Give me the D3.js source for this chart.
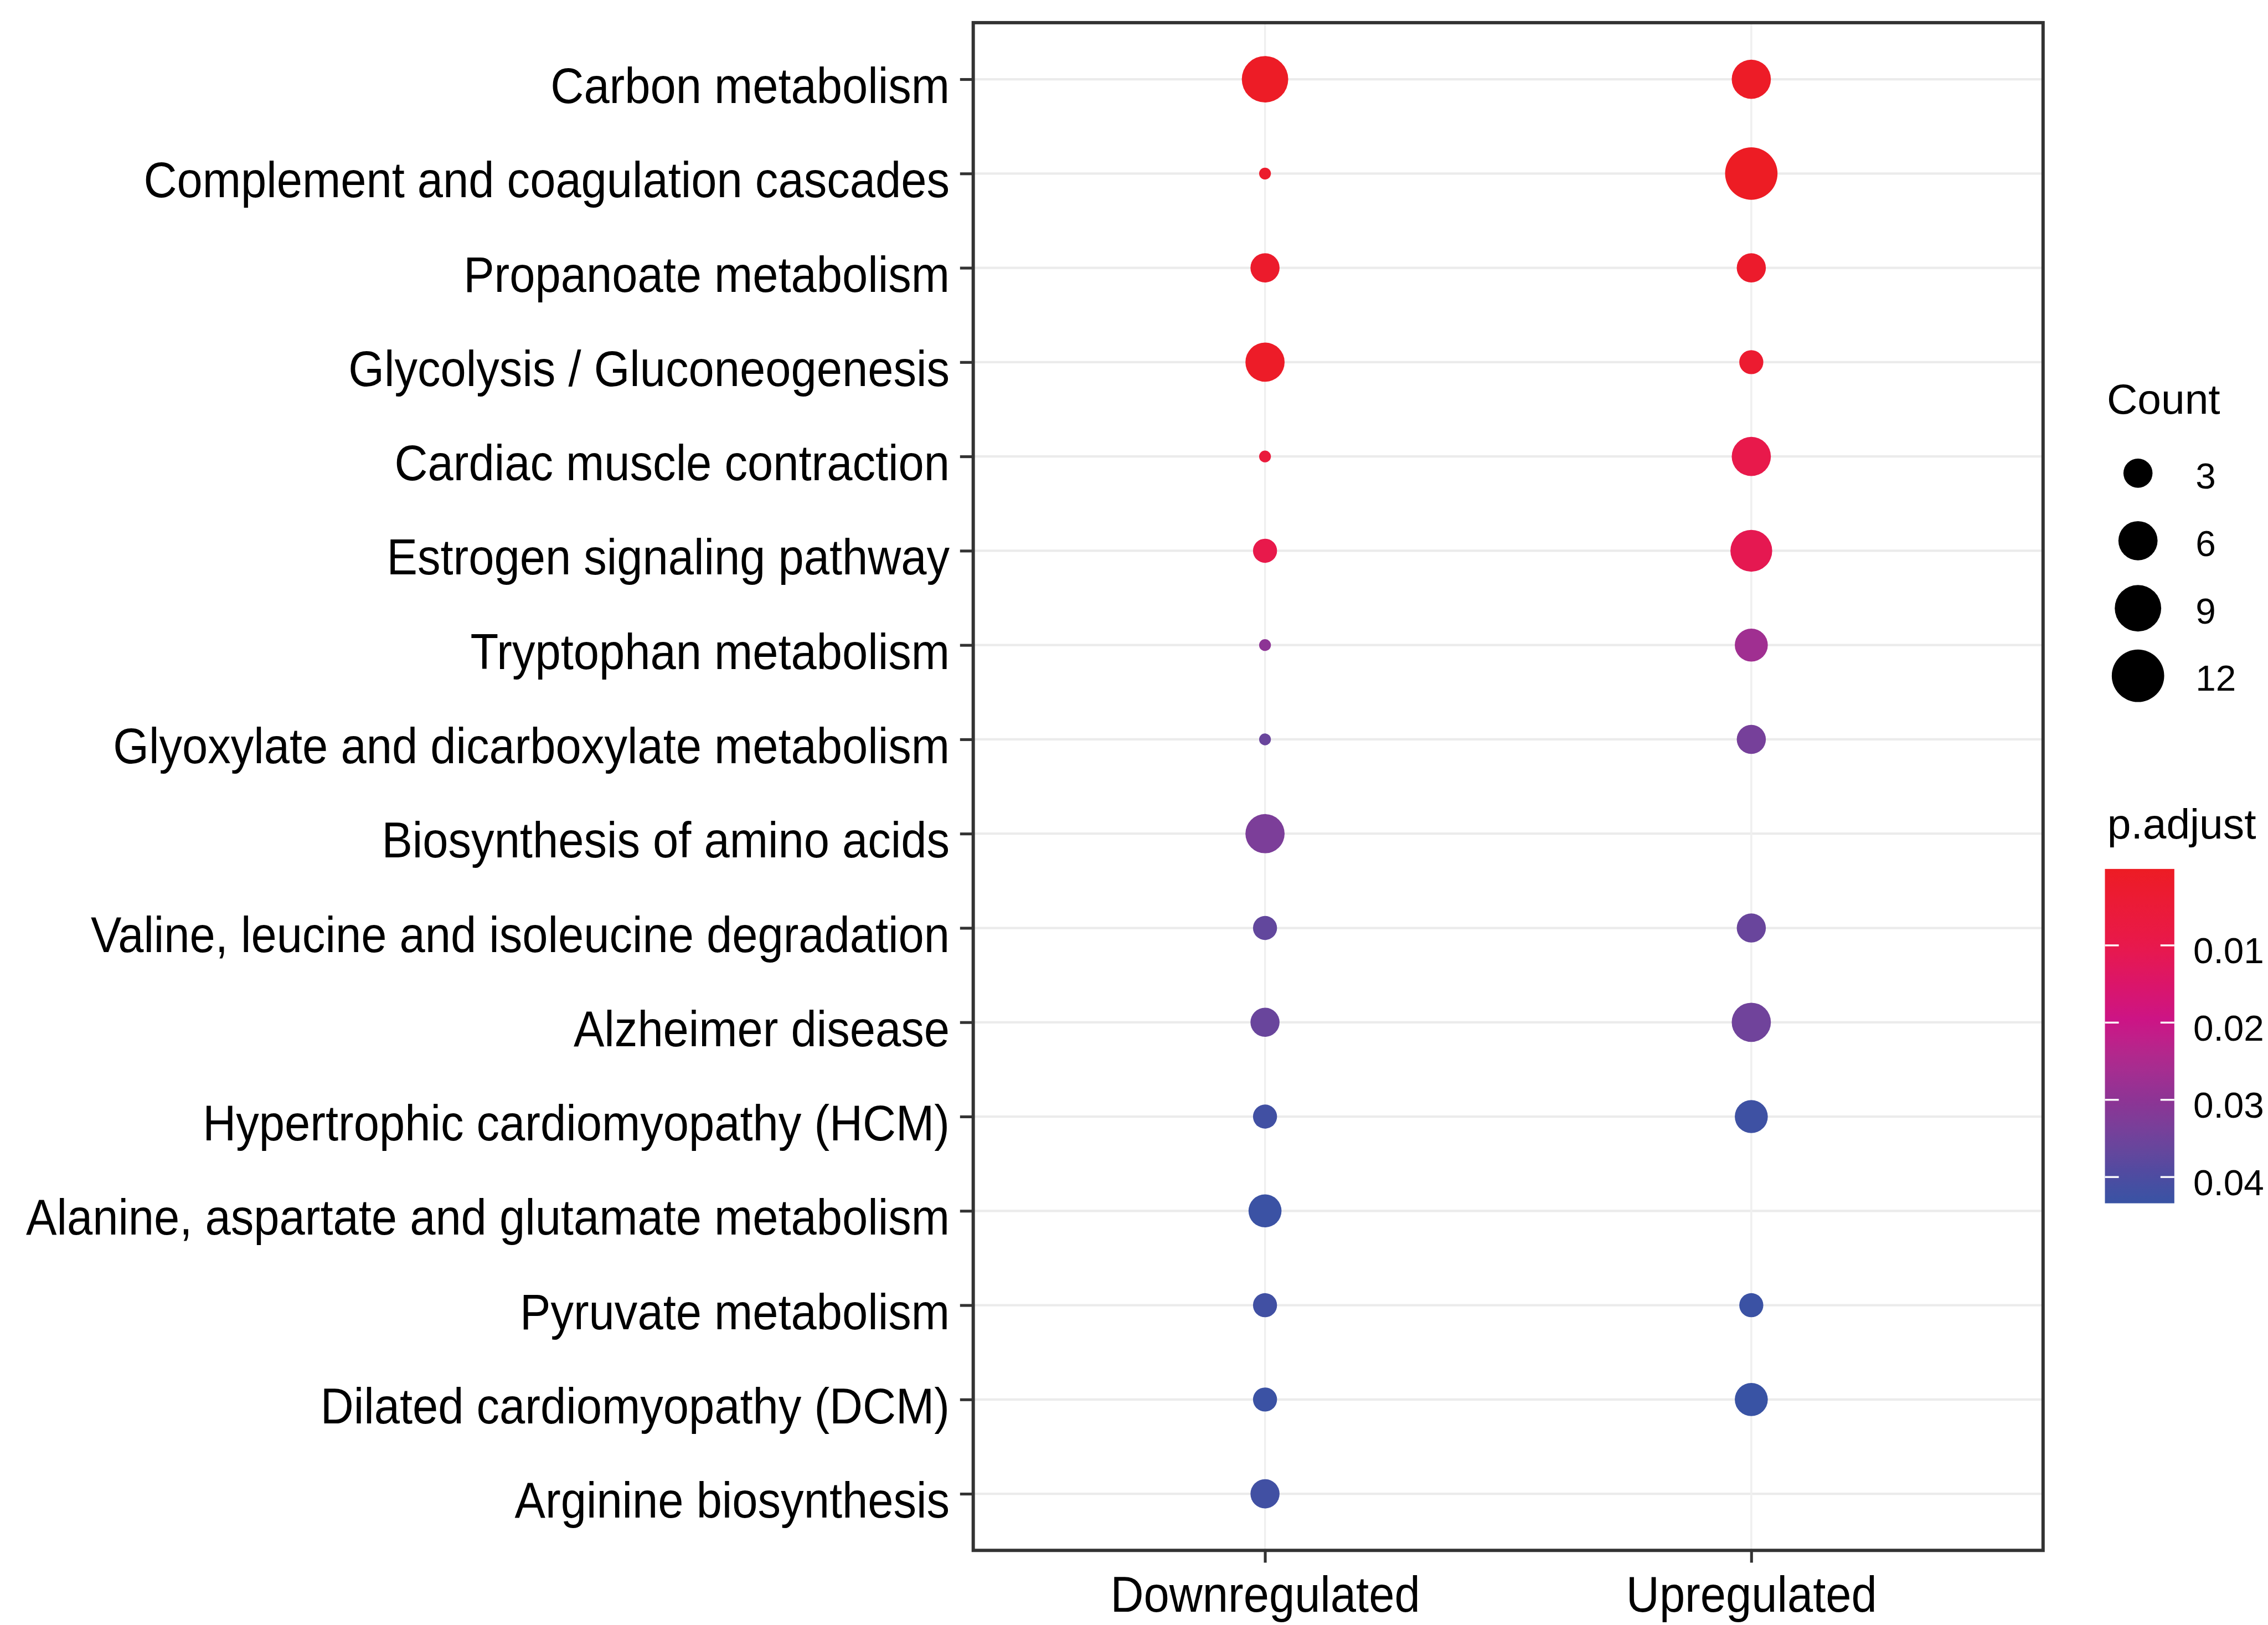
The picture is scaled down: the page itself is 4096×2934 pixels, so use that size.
<!DOCTYPE html>
<html>
<head>
<meta charset="utf-8">
<script src="https://cdn.jsdelivr.net/npm/d3@7"></script>
<style>
  html, body { margin: 0; padding: 0; background: #ffffff; }
  svg { display: block; }
  text { font-family: "Liberation Sans", Arial, Helvetica, sans-serif; fill: #000; }
</style>
</head>
<body>
<script>
// KEGG pathway enrichment, compared between down- and up-regulated proteins
const pathways = [
  "Carbon metabolism",
  "Complement and coagulation cascades",
  "Propanoate metabolism",
  "Glycolysis / Gluconeogenesis",
  "Cardiac muscle contraction",
  "Estrogen signaling pathway",
  "Tryptophan metabolism",
  "Glyoxylate and dicarboxylate metabolism",
  "Biosynthesis of amino acids",
  "Valine, leucine and isoleucine degradation",
  "Alzheimer disease",
  "Hypertrophic cardiomyopathy (HCM)",
  "Alanine, aspartate and glutamate metabolism",
  "Pyruvate metabolism",
  "Dilated cardiomyopathy (DCM)",
  "Arginine biosynthesis"
];
const groups = ["Downregulated", "Upregulated"];

// gene counts per pathway (null = pathway not enriched in that group)
const downCount = [9, 1, 3, 6, 1, 2, 1, 1, 6, 2, 3, 2, 4, 2, 2, 3];
const upCount   = [6, 12, 3, 2, 6, 7, 4, 3, null, 3, 6, 4, null, 2, 4, null];

// adjusted p-values
const downPadj = [0.0005, 0.002, 0.002, 0.001, 0.006, 0.010, 0.030, 0.036, 0.033, 0.037, 0.036, 0.042, 0.043, 0.042, 0.043, 0.042];
const upPadj   = [0.0008, 0.0001, 0.002, 0.003, 0.010, 0.011, 0.027, 0.034, null, 0.036, 0.035, 0.0425, null, 0.043, 0.0434, null];

const countBreaks = [3, 6, 9, 12];
const padjBreaks = [0.01, 0.02, 0.03, 0.04];

// long-format table built from the arrays above
const records = [];
pathways.forEach((p, i) => {
  if (downCount[i] != null) records.push({ pathway: p, group: groups[0], count: downCount[i], padj: downPadj[i] });
  if (upCount[i] != null) records.push({ pathway: p, group: groups[1], count: upCount[i], padj: upPadj[i] });
});

// canvas in reference units, scaled to the window by the viewBox
const W = 4803, H = 3441;
const svg = d3.select("body").append("svg")
  .attr("width", 4096).attr("height", 2934)
  .attr("viewBox", `0 0 ${W} ${H}`);
svg.append("rect").attr("width", W).attr("height", H).attr("fill", "#fff");

const panel = { left: 2061, right: 4327, top: 48, bottom: 3283 };
const axisFont = 97.5, stretch = 1.1;

const x = d3.scalePoint().domain(groups).range([panel.left, panel.right]).padding(0.6);
const y = d3.scalePoint().domain(pathways).range([panel.top, panel.bottom]).padding(0.6);

const countExtent = d3.extent(records, d => d.count);
const countT = d3.scaleLinear().domain(countExtent).range([0, 1]);
const radiusT = d3.scaleSqrt().domain([0, 1]).range([12.5, 55.5]);
const radius = c => radiusT(countT(c));

const padjExtent = d3.extent(records, d => d.padj);
const colorStopsP = [padjExtent[0], 0.01, 0.02, 0.03, 0.04, padjExtent[1]];
const color = d3.scaleLinear()
  .domain(colorStopsP)
  .range(["#ED1C24", "#E8194B", "#CB1487", "#8D3495", "#4B4CA1", "#3953A4"])
  .interpolate(d3.interpolateLab);

// grid
const grid = svg.append("g");
grid.selectAll("line.h").data(pathways).join("line")
  .attr("x1", panel.left).attr("x2", panel.right)
  .attr("y1", d => y(d)).attr("y2", d => y(d))
  .attr("stroke", "#EBEBEB").attr("stroke-width", 5);
grid.selectAll("line.v").data(groups).join("line")
  .attr("x1", d => x(d)).attr("x2", d => x(d))
  .attr("y1", panel.top).attr("y2", panel.bottom)
  .attr("stroke", "#EFEFEF").attr("stroke-width", 4);

// points
svg.append("g").selectAll("circle").data(records).join("circle")
  .attr("cx", d => x(d.group))
  .attr("cy", d => y(d.pathway))
  .attr("r", d => radius(d.count))
  .attr("fill", d => color(d.padj));

// panel border
svg.append("rect")
  .attr("x", panel.left).attr("y", panel.top)
  .attr("width", panel.right - panel.left).attr("height", panel.bottom - panel.top)
  .attr("fill", "none").attr("stroke", "#333").attr("stroke-width", 7);

// y axis
const yAxis = svg.append("g").attr("transform", `translate(${panel.left},0)`)
  .call(d3.axisLeft(y).tickSize(28).tickPadding(22));
yAxis.select(".domain").remove();
yAxis.selectAll(".tick line").attr("stroke", "#333").attr("stroke-width", 6);
yAxis.selectAll(".tick text")
  .attr("x", null).attr("dy", null)
  .attr("transform", `translate(-50,50) scale(1,${stretch})`)
  .attr("font-size", axisFont).attr("fill", "#000")
  .style("font-family", '"Liberation Sans", Arial, sans-serif');

// x axis
const xAxis = svg.append("g").attr("transform", `translate(0,${panel.bottom})`)
  .call(d3.axisBottom(x).tickSize(26).tickPadding(20));
xAxis.select(".domain").remove();
xAxis.selectAll(".tick line").attr("stroke", "#333").attr("stroke-width", 6);
xAxis.selectAll(".tick text")
  .attr("y", null).attr("dy", null)
  .attr("transform", `translate(0,130) scale(1,${stretch})`)
  .attr("font-size", axisFont).attr("fill", "#000")
  .style("font-family", '"Liberation Sans", Arial, sans-serif');

// size legend
const sizeLeg = svg.append("g");
sizeLeg.append("text").attr("x", 4462).attr("y", 876).attr("font-size", 90).text("Count");
const legY = d3.scalePoint().domain(countBreaks).range([1002, 1431]);
sizeLeg.selectAll("circle").data(countBreaks).join("circle")
  .attr("cx", 4528).attr("cy", d => legY(d)).attr("r", d => radius(d)).attr("fill", "#000");
sizeLeg.selectAll("text.lab").data(countBreaks).join("text").attr("class", "lab")
  .attr("x", 4650).attr("y", d => legY(d) + 32).attr("font-size", 77).text(d => d);

// colour bar legend
const bar = { left: 4458, right: 4605, top: 1840, bottom: 2548 };
const barY = d3.scaleLinear().domain(padjExtent).range([bar.top, bar.bottom]);
const defs = svg.append("defs");
const grad = defs.append("linearGradient").attr("id", "padjGrad")
  .attr("x1", 0).attr("x2", 0).attr("y1", 0).attr("y2", 1);
d3.range(0, 1.0001, 0.05).forEach(t => {
  const v = padjExtent[0] + t * (padjExtent[1] - padjExtent[0]);
  grad.append("stop").attr("offset", t).attr("stop-color", color(v));
});
const cbar = svg.append("g");
cbar.append("text").attr("x", 4463).attr("y", 1776).attr("font-size", 90).text("p.adjust");
cbar.append("rect")
  .attr("x", bar.left).attr("y", bar.top)
  .attr("width", bar.right - bar.left).attr("height", bar.bottom - bar.top)
  .attr("fill", "url(#padjGrad)");
const tickW = (bar.right - bar.left) / 5;
cbar.selectAll("line.tl").data(padjBreaks).join("line").attr("class", "tl")
  .attr("x1", bar.left).attr("x2", bar.left + tickW)
  .attr("y1", d => barY(d)).attr("y2", d => barY(d))
  .attr("stroke", "#fff").attr("stroke-width", 4);
cbar.selectAll("line.tr").data(padjBreaks).join("line").attr("class", "tr")
  .attr("x1", bar.right - tickW).attr("x2", bar.right)
  .attr("y1", d => barY(d)).attr("y2", d => barY(d))
  .attr("stroke", "#fff").attr("stroke-width", 4);
cbar.selectAll("text.lab").data(padjBreaks).join("text").attr("class", "lab")
  .attr("x", 4645).attr("y", d => barY(d) + 38).attr("font-size", 77)
  .text(d => d3.format(".2f")(d));
</script>
</body>
</html>
